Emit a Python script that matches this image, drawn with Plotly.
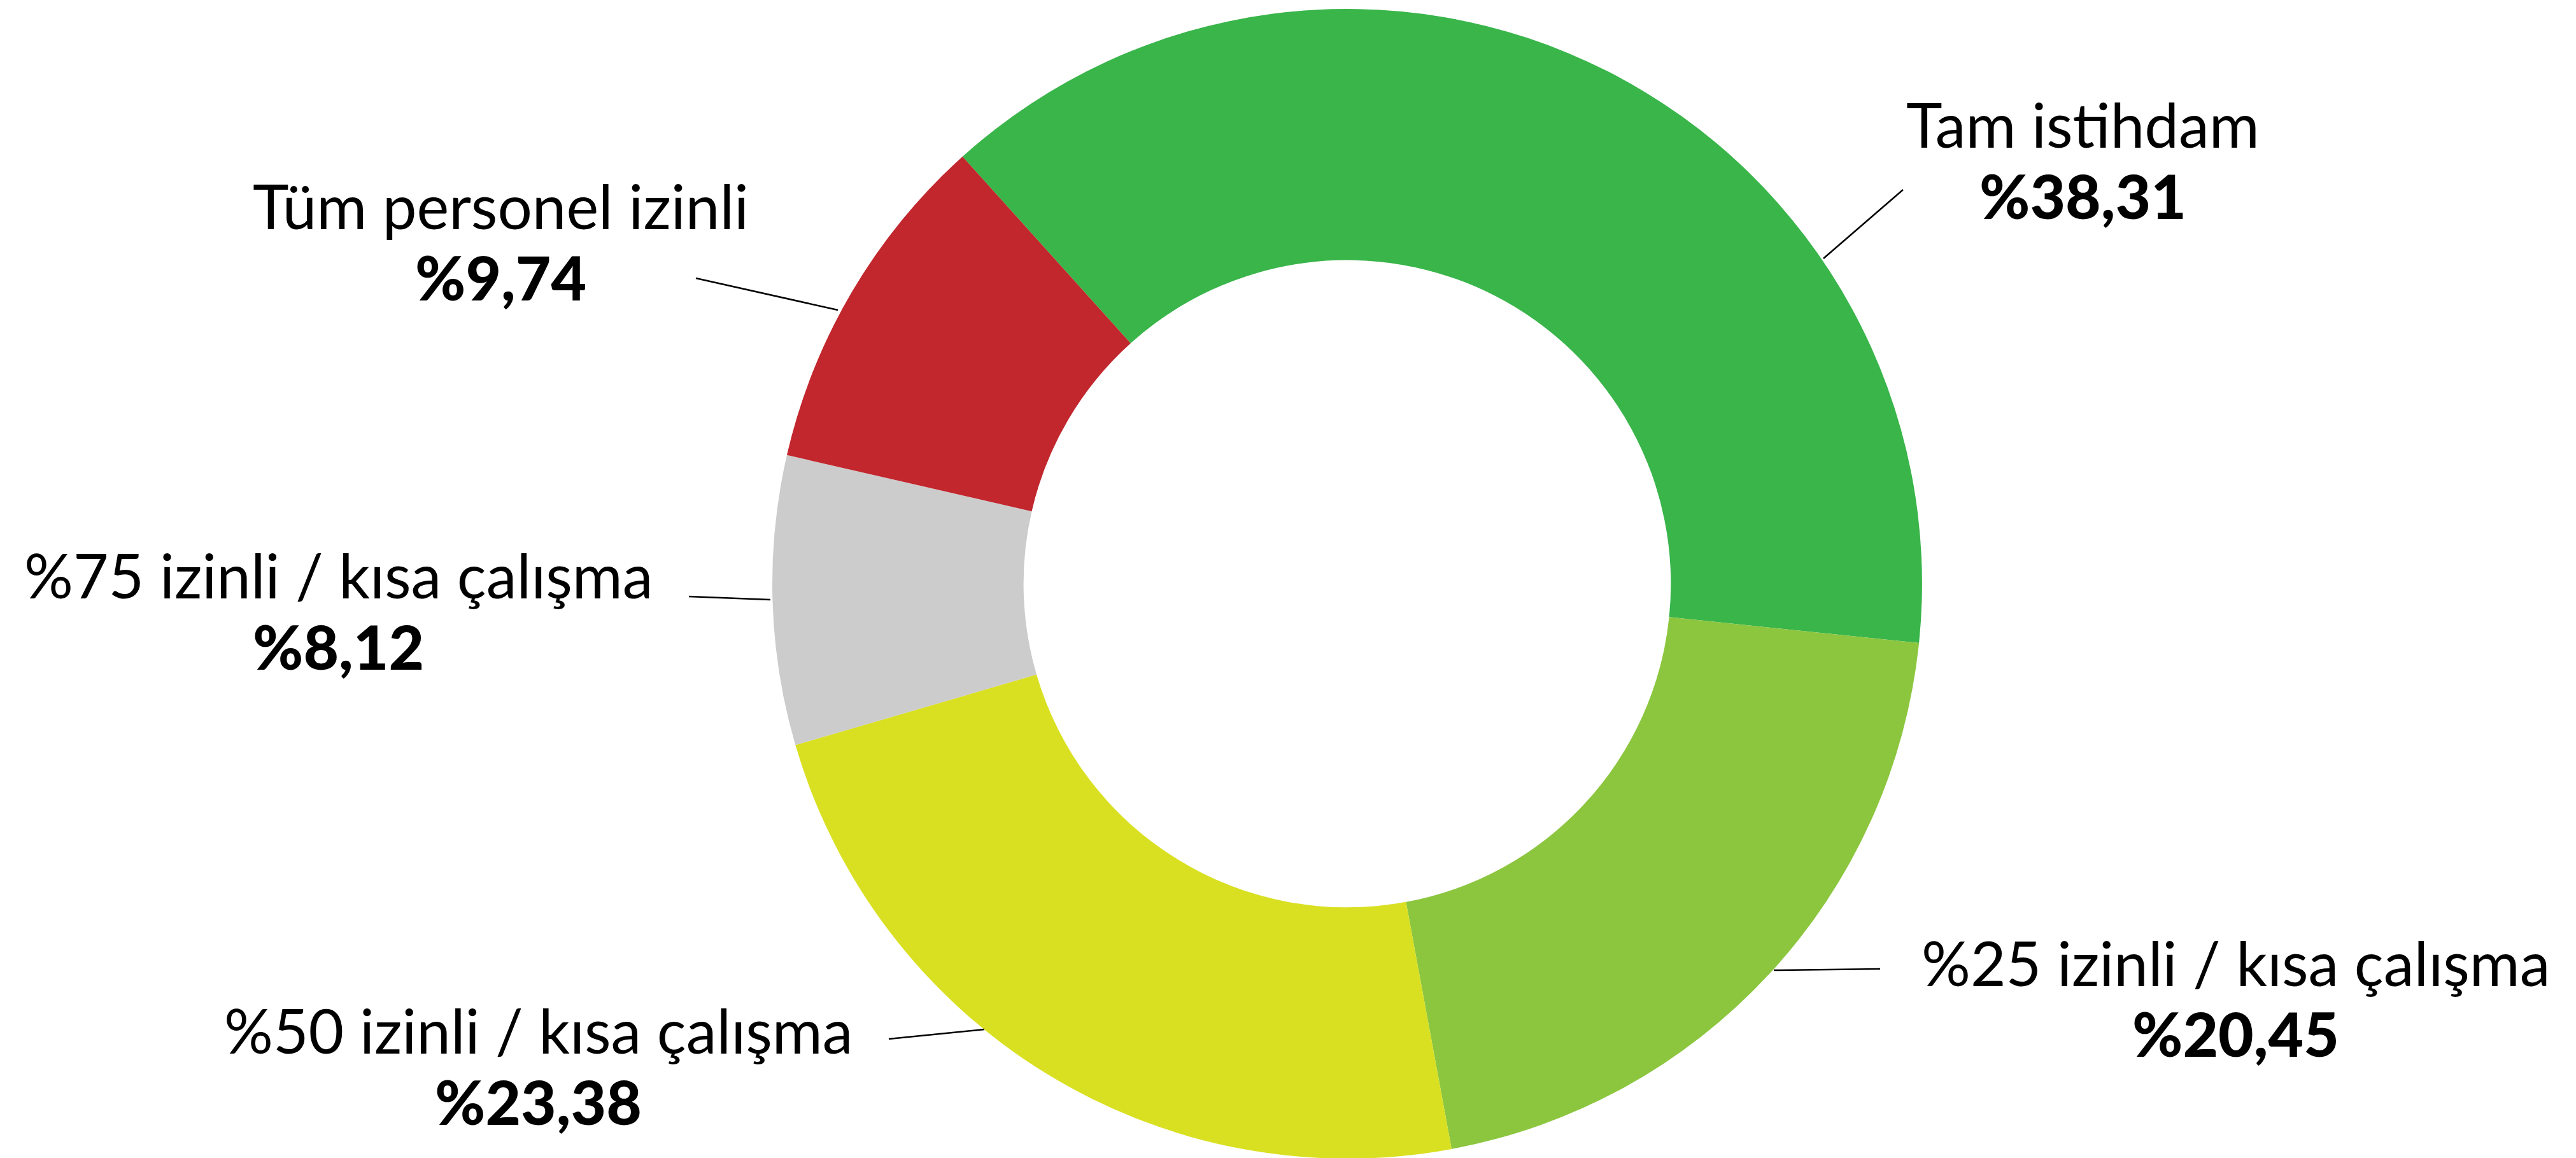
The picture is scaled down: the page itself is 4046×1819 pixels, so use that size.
import plotly.graph_objects as go

# ---- data ----
labels = ["Tam istihdam", "%25 izinli / kısa çalışma", "%50 izinli / kısa çalışma",
          "%75 izinli / kısa çalışma", "Tüm personel izinli"]
values = [38.31, 20.45, 23.38, 8.12, 9.74]
colors = ["#39B54A", "#8CC63F", "#D9E021", "#CCCCCC", "#C1272D"]

# ---- layout constants (pixels in a 4046x1819 canvas) ----
W, H = 4046, 1819
OFF = 8  # page body margin
FONT = "Lato, 'Noto Sans', sans-serif"
FS = 96
# label centre x, baseline of name line, baseline of percentage line
label_pos = [(3271, 230, 342), (3511, 1547, 1658), (845, 1653, 1765),
             (531, 938, 1050), (786, 358, 470)]
# leader lines: donut edge point -> text-side point
leader = [((2864, 406), (2989, 298)), ((2786, 1524), (2953, 1522)),
          ((1546, 1617), (1396, 1632)), ((1210, 942), (1082, 937)),
          ((1316, 487), (1093, 437))]


def px(x):
    return (x - OFF) / W


def py(y):
    return 1 - (y - OFF) / H


fig = go.Figure(go.Pie(
    labels=labels, values=values, hole=0.563, sort=False,
    direction="clockwise", rotation=-42,
    marker=dict(colors=colors, line=dict(width=0)),
    textinfo="none", hoverinfo="label+value", showlegend=False,
    domain=dict(x=[0.1, 0.942], y=[0.0039, 0.9967]),
))

annotations = []
shapes = []
for lab, val, (cx, b1, b2), (p0, p1) in zip(labels, values, label_pos, leader):
    pct = "%" + f"{val:.2f}".replace(".", ",")
    annotations.append(dict(x=px(cx), y=py(b1 - 0.37 * FS), xref="paper", yref="paper",
                            text=lab, showarrow=False, xanchor="center", yanchor="middle",
                            font=dict(family=FONT, size=FS, color="#000000")))
    annotations.append(dict(x=px(cx), y=py(b2 - 0.37 * FS), xref="paper", yref="paper",
                            text=pct, showarrow=False, xanchor="center", yanchor="middle",
                            font=dict(family=FONT, size=FS, color="#000000", weight=900)))
    shapes.append(dict(type="line", xref="paper", yref="paper",
                       x0=px(p0[0]), y0=py(p0[1]), x1=px(p1[0]), y1=py(p1[1]),
                       line=dict(color="#000000", width=2.5)))

fig.update_layout(width=W, height=H, margin=dict(l=0, r=0, t=0, b=0),
                  paper_bgcolor="white", plot_bgcolor="white",
                  annotations=annotations, shapes=shapes)

fig.write_html("out.html")
